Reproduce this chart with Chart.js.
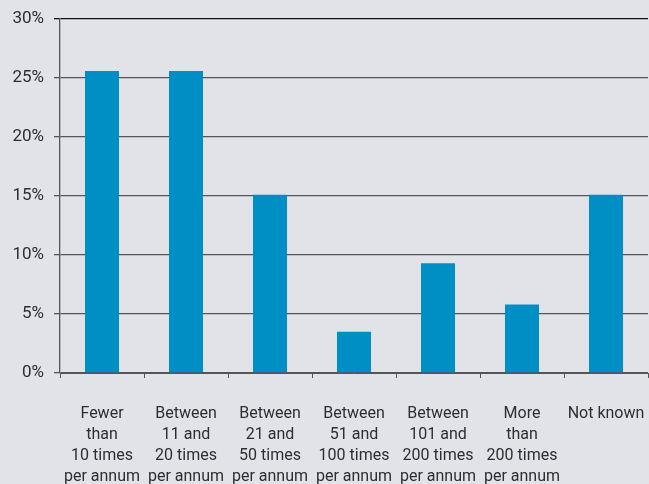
<!DOCTYPE html>
<html>
<head>
<meta charset="utf-8">
<script src="https://cdn.jsdelivr.net/npm/chart.js@4/dist/chart.umd.min.js"></script>
<style>
  html, body { margin: 0; padding: 0; background: #e2e3e8; }
  #wrap { width: 649px; height: 484px; }
</style>
</head>
<body>
<div id="wrap"><canvas id="freqChart" width="649" height="484"></canvas></div>
<script>
const categories = [
  ['Fewer', 'than', '10 times', 'per annum'],
  ['Between', '11 and', '20 times', 'per annum'],
  ['Between', '21 and', '50 times', 'per annum'],
  ['Between', '51 and', '100 times', 'per annum'],
  ['Between', '101 and', '200 times', 'per annum'],
  ['More', 'than', '200 times', 'per annum'],
  ['Not known']
];
const shares = [25.6, 25.6, 15.1, 3.5, 9.3, 5.8, 15.1];
const yTicks = [0, 5, 10, 15, 20, 25, 30];

const barColour = '#008fc5';
const gridColour = '#555558';

Chart.defaults.font.family = 'Roboto, "Open Sans", sans-serif';
Chart.defaults.color = '#2e2e30';

const freqChart = new Chart(document.getElementById('freqChart').getContext('2d'), {
  type: 'bar',
  data: {
    labels: categories,
    datasets: [{
      data: shares,
      backgroundColor: barColour,
      borderWidth: 0,
      barPercentage: 0.405,
      categoryPercentage: 1
    }]
  },
  options: {
    responsive: false,
    animation: false,
    layout: { padding: { top: 19, right: 1, left: 0, bottom: 0 } },
    plugins: {
      legend: { display: false },
      tooltip: { enabled: false }
    },
    scales: {
      x: {
        offset: true,
        grid: {
          offset: true,
          drawOnChartArea: false,
          drawTicks: true,
          tickLength: 5,
          color: gridColour,
          lineWidth: 1
        },
        border: { color: gridColour, width: 1 },
        ticks: {
          padding: 26,
          maxRotation: 0,
          autoSkip: false,
          font: { size: 16, weight: 400, lineHeight: 1.3 },
          color: '#2e2e30'
        },
        afterFit: (axis) => {
          axis.height = 111;
          axis.paddingLeft = 0;
          axis.paddingRight = 0;
        }
      },
      y: {
        min: 0,
        max: 30,
        afterBuildTicks: (axis) => { axis.ticks = yTicks.map(v => ({ value: v })); },
        grid: {
          color: (ctx) => ctx.tick && ctx.tick.value === 30 ? '#111111' : gridColour,
          lineWidth: 1.3,
          tickLength: 6
        },
        border: { color: gridColour, width: 1.3 },
        ticks: {
          padding: 10,
          font: { size: 17, weight: 400 },
          color: '#2e2e30',
          callback: (v) => v + '%'
        },
        afterFit: (axis) => {
          axis.width = 60;
          axis.paddingTop = 0;
          axis.paddingBottom = 0;
        }
      }
    }
  }
});
</script>
</body>
</html>
